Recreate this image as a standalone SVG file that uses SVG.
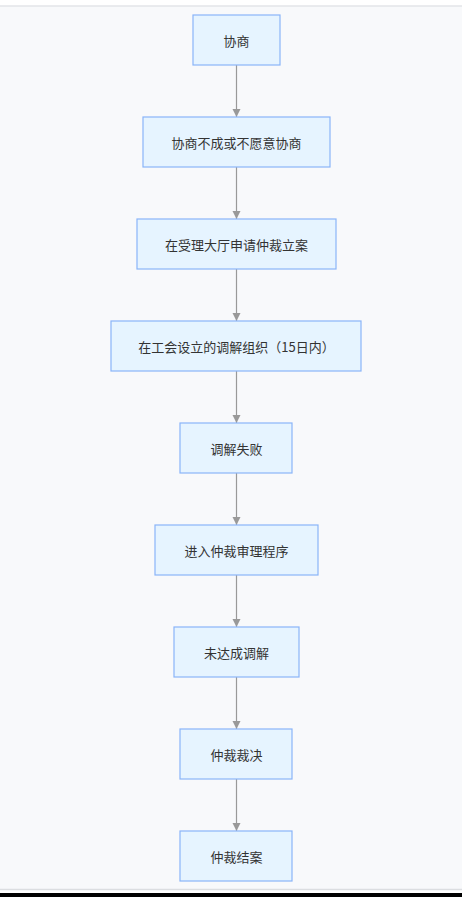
<svg xmlns="http://www.w3.org/2000/svg" width="462" height="897" viewBox="0 0 462 897">
<style>
.node rect{fill:#e6f4ff;stroke:#8ab4f8;stroke-width:1.2}
.node text{font-family:"Noto Sans CJK SC","Liberation Sans",sans-serif;font-size:13px;fill:#333;text-anchor:middle;dominant-baseline:central}
.edges line{stroke:#999;stroke-width:1.2}
</style>
<defs>
<marker id="arr" markerWidth="8" markerHeight="9" refX="8" refY="4" orient="auto" markerUnits="userSpaceOnUse" viewBox="0 0 8 9">
<path d="M0,0 L8,4 L0,8 Z" fill="#999"/>
</marker>
</defs>
<rect x="0" y="0" width="462" height="897" fill="#ffffff"/>
<rect x="0" y="6" width="462" height="883" fill="#f8f9fb"/>
<line x1="0" y1="6" x2="462" y2="6" stroke="#e3e5e8" stroke-width="1.5"/>
<line x1="0" y1="889.5" x2="462" y2="889.5" stroke="#dcdee1" stroke-width="1.5"/>
<rect x="0" y="893" width="462" height="4" fill="#000"/>
<g class="edges">
<line x1="236.5" y1="65" x2="236.5" y2="117" marker-end="url(#arr)"/>
<line x1="236.5" y1="167" x2="236.5" y2="219" marker-end="url(#arr)"/>
<line x1="236.5" y1="269" x2="236.5" y2="321" marker-end="url(#arr)"/>
<line x1="236.5" y1="371" x2="236.5" y2="423" marker-end="url(#arr)"/>
<line x1="236.5" y1="473" x2="236.5" y2="525" marker-end="url(#arr)"/>
<line x1="236.5" y1="575" x2="236.5" y2="627" marker-end="url(#arr)"/>
<line x1="236.5" y1="677" x2="236.5" y2="729" marker-end="url(#arr)"/>
<line x1="236.5" y1="779" x2="236.5" y2="831" marker-end="url(#arr)"/>
</g>
<g id="n1" class="node"><rect x="193" y="15" width="87" height="50"/><text x="236.5" y="40">协商</text></g>
<g id="n2" class="node"><rect x="143" y="117" width="187" height="50"/><text x="236.5" y="142">协商不成或不愿意协商</text></g>
<g id="n3" class="node"><rect x="137" y="219" width="199" height="50"/><text x="236.5" y="244">在受理大厅申请仲裁立案</text></g>
<g id="n4" class="node"><rect x="111" y="321" width="250" height="50"/><text x="236.5" y="346">在工会设立的调解组织（15日内）</text></g>
<g id="n5" class="node"><rect x="180" y="423" width="112" height="50"/><text x="236.5" y="448">调解失败</text></g>
<g id="n6" class="node"><rect x="155" y="525" width="163" height="50"/><text x="236.5" y="550">进入仲裁审理程序</text></g>
<g id="n7" class="node"><rect x="174" y="627" width="125" height="50"/><text x="236.5" y="652">未达成调解</text></g>
<g id="n8" class="node"><rect x="180" y="729" width="112" height="50"/><text x="236.5" y="754">仲裁裁决</text></g>
<g id="n9" class="node"><rect x="180" y="831" width="112" height="50"/><text x="236.5" y="856">仲裁结案</text></g>
</svg>
